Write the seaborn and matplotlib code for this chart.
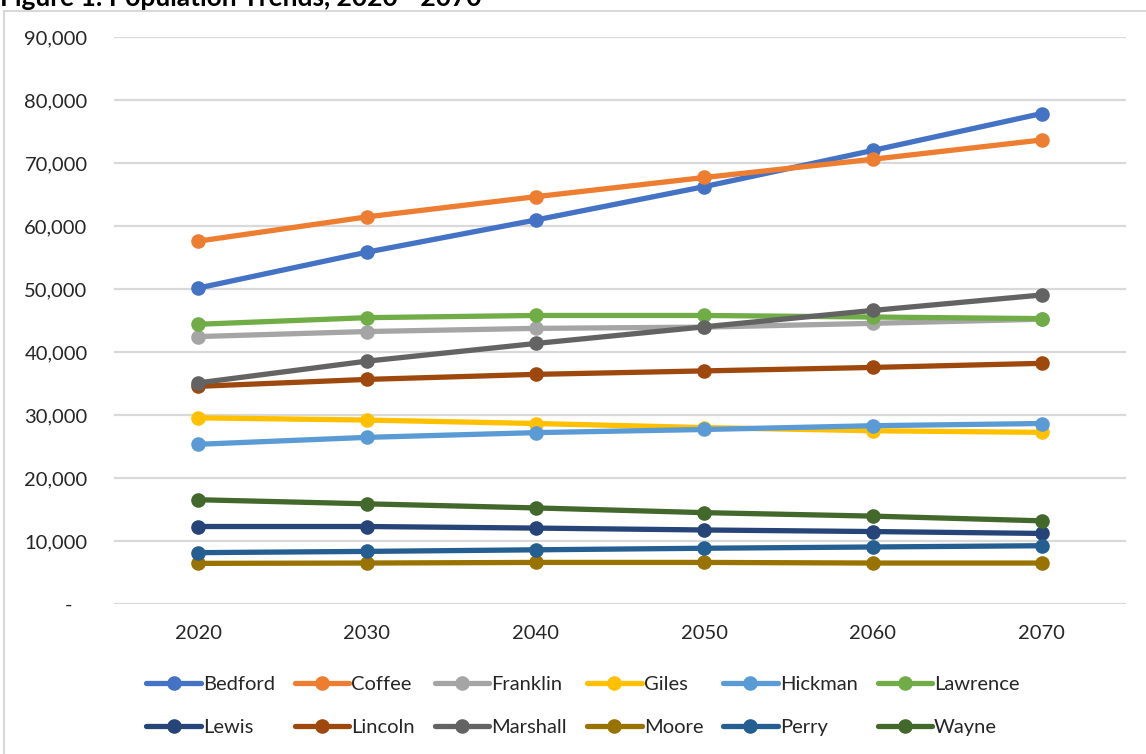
import matplotlib
matplotlib.use("Agg")
import matplotlib.pyplot as plt
import seaborn as sns
import pandas as pd
from matplotlib.ticker import FuncFormatter, MultipleLocator
from matplotlib.patches import Rectangle

years = ["2020", "2030", "2040", "2050", "2060", "2070"]
bedford = [50150, 55850, 60950, 66250, 72000, 77850]
coffee = [57600, 61450, 64650, 67700, 70600, 73650]
franklin = [42450, 43250, 43750, 43950, 44550, 45200]
giles = [29550, 29200, 28650, 28000, 27500, 27250]
hickman = [25350, 26450, 27200, 27700, 28300, 28650]
lawrence = [44400, 45450, 45800, 45800, 45550, 45300]
lewis = [12300, 12300, 12050, 11750, 11500, 11200]
lincoln = [34550, 35650, 36450, 37000, 37550, 38200]
marshall = [35100, 38550, 41350, 44000, 46600, 49050]
moore = [6450, 6500, 6600, 6600, 6500, 6500]
perry = [8150, 8350, 8600, 8850, 9050, 9250]
wayne = [16550, 15900, 15250, 14500, 13950, 13200]

counties = ["Bedford", "Coffee", "Franklin", "Giles", "Hickman", "Lawrence",
            "Lewis", "Lincoln", "Marshall", "Moore", "Perry", "Wayne"]
series = [bedford, coffee, franklin, giles, hickman, lawrence,
          lewis, lincoln, marshall, moore, perry, wayne]
colors = ["#4472C4", "#ED7D31", "#A5A5A5", "#FFC000", "#5B9BD5", "#70AD47",
          "#264478", "#9E480E", "#636363", "#997300", "#255E91", "#43682B"]

rows = []
for name, vals in zip(counties, series):
    for i, (y, v) in enumerate(zip(years, vals)):
        rows.append({"County": name, "Year": y, "idx": i, "Population": v})
df = pd.DataFrame(rows)

sns.set_style("white")
plt.rcParams["font.family"] = ["Lato", "DejaVu Sans"]

fig = plt.figure(figsize=(11.46, 7.54), dpi=100)
W, H = 1146, 754
ax = fig.add_axes([114 / W, 1 - 604 / H, (1126 - 114) / W, (604 - 37) / H])

sns.lineplot(data=df, x="idx", y="Population", hue="County", hue_order=counties,
             palette=colors, marker="o", markersize=10.5, markeredgewidth=0,
             linewidth=3.8, ax=ax, legend=True, zorder=3)

ax.set_xlim(-0.5, 5.5)
ax.set_ylim(0, 90000)
ax.set_xticks(range(len(years)))
ax.set_xticklabels(years)
ax.yaxis.set_major_locator(MultipleLocator(10000))
ax.yaxis.set_major_formatter(FuncFormatter(lambda v, p: "-   " if v == 0 else f"{int(v):,}"))
ax.grid(axis="y", color="#d9d9d9", linewidth=1.6, zorder=0)
ax.grid(axis="x", visible=False)
for s in ax.spines.values():
    s.set_visible(False)
ax.tick_params(axis="y", length=0, pad=19, labelsize=14.5, labelcolor="#262626")
ax.tick_params(axis="x", length=0, pad=15, labelsize=14.5, labelcolor="#262626")
ax.set_xlabel("")
ax.set_ylabel("")

handles, labels = ax.get_legend_handles_labels()
order = []
for c in range(6):
    order += [c, c + 6]
leg = ax.legend([handles[i] for i in order], [labels[i] for i in order],
                ncol=6, loc="upper center", bbox_to_anchor=(583 / W, 1 - 666 / H),
                bbox_transform=fig.transFigure, frameon=False, fontsize=14.5,
                handlelength=2.7, handletextpad=0.1, columnspacing=1.0,
                labelspacing=1.3, borderpad=0)
for t in leg.get_texts():
    t.set_color("#262626")

fig.patches.append(Rectangle((4 / W, -0.1), 1.2, 1 - 10.5 / H + 0.1,
                             transform=fig.transFigure, fill=False,
                             edgecolor="#d9d9d9", linewidth=1.5, zorder=0))

fig.text(0, 1 - 6 / H, "Figure 1: Population Trends, 2020 - 2070",
         fontsize=19, fontweight="bold", ha="left", va="baseline", color="#000000")

fig.savefig("out.png", dpi=100, facecolor="white")
